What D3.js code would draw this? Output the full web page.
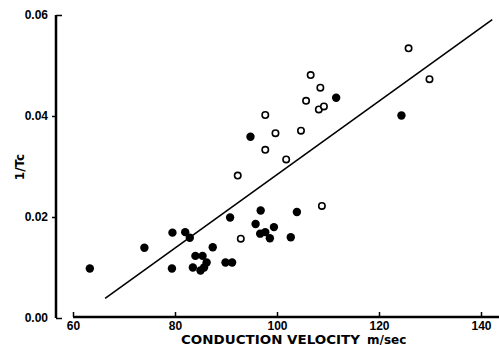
<!DOCTYPE html>
<html>
<head>
<meta charset="utf-8">
<script src="https://cdn.jsdelivr.net/npm/d3@7"></script>
<style>
  body { margin: 0; background: #fff; }
  svg { display: block; font-family: "DejaVu Sans", sans-serif; }
</style>
</head>
<body>
<div id="chart"></div>
<script>
// Data: conduction velocity (m/sec) vs 1/Tc
const filledVel = [63.3, 74.0, 79.5, 79.4, 82.0, 82.9, 84.0, 83.5, 85.4, 86.2, 85.7, 85.0, 87.4, 89.9,
                   91.2, 90.8, 94.8, 96.8, 95.8, 96.7, 97.7, 98.6, 99.4, 102.7, 103.9, 111.6, 124.4]
const filledInv = [0.0098, 0.0139, 0.0169, 0.0098, 0.0170, 0.0159, 0.0123, 0.0100, 0.0123, 0.0110, 0.0100, 0.0094, 0.0140, 0.0110,
                   0.0110, 0.0199, 0.0359, 0.0213, 0.0186, 0.0167, 0.0170, 0.0158, 0.0180, 0.0160, 0.0210, 0.0436, 0.0401]
const openVel = [92.3, 92.9, 97.7, 97.7, 99.7, 101.8, 104.7, 105.7, 106.6, 108.2, 108.5, 109.2, 108.8, 125.8, 129.9]
const openInv = [0.0282, 0.0157, 0.0402, 0.0333, 0.0366, 0.0314, 0.0371, 0.0430, 0.0481, 0.0413, 0.0456, 0.0419, 0.0222, 0.0534, 0.0473]

// regression line end points
const fitVel = [66.3, 142.2]
const fitInv = [0.0039, 0.0591]

const xTicks = [60, 80, 100, 120, 140]
const yTicks = [0, 0.02, 0.04, 0.06]

let w = 499
let h = 345

let svg = d3.select("#chart").append("svg").attr("width", w).attr("height", h)

let xScale = d3.scaleLinear().domain([60, 140]).range([73, 481])
let yScale = d3.scaleLinear().domain([0, 0.06]).range([318, 15])

// x axis: ticks point up, line runs on past the last tick
const xAxis = d3.axisBottom(xScale).tickValues(xTicks).tickSizeInner(-5).tickSizeOuter(0).tickPadding(4)
let gx = svg.append("g").attr("transform", "translate(0," + 317 + ")").call(xAxis)
gx.select(".domain").remove()
gx.append("line").attr("x1", xScale(60)).attr("x2", xScale(143.6)).attr("y1", 0).attr("y2", 0)
  .attr("stroke", "#000").attr("stroke-width", 2.5)
gx.selectAll(".tick line").attr("stroke-width", 1.5)
gx.selectAll(".tick text").attr("font-size", 12).attr("font-weight", "bold").attr("fill", "#000")

// y axis
const yAxis = d3.axisLeft(yScale).tickValues(yTicks).tickSize(4).tickSizeOuter(0).tickPadding(4)
  .tickFormat(d3.format(".2f"))
let gy = svg.append("g").attr("transform", "translate(56,0)").call(yAxis)
gy.select(".domain").remove()
gy.append("line").attr("x1", 0).attr("x2", 0).attr("y1", yScale(0.06)).attr("y2", yScale(0))
  .attr("stroke", "#000").attr("stroke-width", 2.5)
gy.selectAll(".tick line").attr("stroke-width", 1.5)
  .attr("x2", d => (d === 0 || d === 0.06) ? 6 : -4)
gy.selectAll(".tick text").attr("font-size", 12).attr("font-weight", "bold").attr("fill", "#000")

// axis titles
svg.append("text")
  .attr("x", 181).attr("y", 343.5)
  .attr("font-size", 12.5).attr("font-weight", "bold")
  .attr("textLength", 179).attr("lengthAdjust", "spacingAndGlyphs")
  .text("CONDUCTION  VELOCITY")
svg.append("text")
  .attr("x", 367).attr("y", 343.5)
  .attr("font-size", 12).attr("font-weight", "bold")
  .text("m/sec")

svg.append("text")
  .attr("transform", "translate(24,167) rotate(-90)")
  .attr("text-anchor", "middle")
  .attr("font-size", 12).attr("font-weight", "bold")
  .text("1/Tc")

// regression line
svg.append("line")
  .attr("x1", xScale(fitVel[0])).attr("y1", yScale(fitInv[0]))
  .attr("x2", xScale(fitVel[1])).attr("y2", yScale(fitInv[1]))
  .attr("stroke", "#000").attr("stroke-width", 1.6)

// filled points
svg.selectAll(".filled")
  .data(filledVel)
  .enter()
  .append("circle")
  .attr("class", "filled")
  .attr("cx", d => xScale(d))
  .attr("cy", (d, i) => yScale(filledInv[i]))
  .attr("r", 4.2)
  .attr("fill", "#000")

// open points
svg.selectAll(".open")
  .data(openVel)
  .enter()
  .append("circle")
  .attr("class", "open")
  .attr("cx", d => xScale(d))
  .attr("cy", (d, i) => yScale(openInv[i]))
  .attr("r", 3.2)
  .attr("fill", "#fff")
  .attr("stroke", "#000")
  .attr("stroke-width", 1.6)
</script>
</body>
</html>
